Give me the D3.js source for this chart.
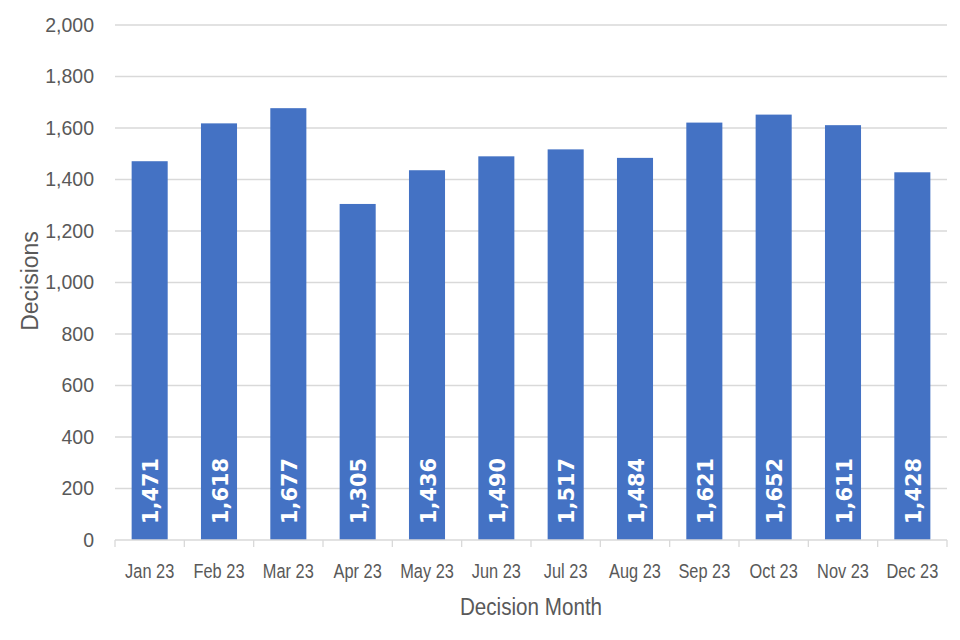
<!DOCTYPE html>
<html><head><meta charset="utf-8">
<script src="https://cdn.jsdelivr.net/npm/d3@7"></script>
<style>body{margin:0;background:#fff}</style>
</head><body>
<svg id="c" width="960" height="640"></svg>
<script>
const months = ["Jan 23","Feb 23","Mar 23","Apr 23","May 23","Jun 23","Jul 23","Aug 23","Sep 23","Oct 23","Nov 23","Dec 23"];
const decisions = [1471,1618,1677,1305,1436,1490,1517,1484,1621,1652,1611,1428];
const yTicks = [0,200,400,600,800,1000,1200,1400,1600,1800,2000];

const svg = d3.select("#c");
const m = {l:115, r:947, t:25, b:540};
const font = "'Liberation Sans',Arial,sans-serif";
const x = d3.scaleBand().domain(months).range([m.l, m.r]).paddingInner(0.48).paddingOuter(0.24);
const y = d3.scaleLinear().domain([0,2000]).range([m.b, m.t]);

// gridlines
svg.append("g").selectAll("line").data(yTicks.filter(d=>d>0)).join("line")
  .attr("x1", m.l).attr("x2", m.r).attr("y1", d=>y(d)).attr("y2", d=>y(d))
  .attr("stroke", "#d9d9d9").attr("stroke-width", 1.3);

// y axis labels
const yAxis = d3.axisLeft(y).tickValues(yTicks).tickSize(0).tickPadding(21).tickFormat(d3.format(","));
const gy = svg.append("g").attr("transform", `translate(${m.l},0)`).call(yAxis);
gy.select(".domain").remove();
gy.selectAll("text").attr("font-family", font).attr("font-size", 19.5).attr("fill", "#595959");

// bars
svg.append("g").selectAll("rect").data(decisions).join("rect")
  .attr("x", (d,i)=>x(months[i])).attr("width", x.bandwidth())
  .attr("y", d=>y(d)).attr("height", d=>y(0)-y(d)).attr("fill", "#4472c4");

// x axis
const step = x.step();
const xAxisG = svg.append("g").attr("transform", `translate(0,${m.b})`);
xAxisG.append("line").attr("x1", m.l).attr("x2", m.r).attr("stroke", "#d9d9d9").attr("stroke-width", 1.3);
xAxisG.selectAll("line.tk").data(d3.range(months.length+1)).join("line").attr("class","tk")
  .attr("x1", i=>m.l + i*step).attr("x2", i=>m.l + i*step).attr("y1", 0).attr("y2", 7)
  .attr("stroke", "#d9d9d9").attr("stroke-width", 1.3);
xAxisG.selectAll("text").data(months).join("text")
  .attr("transform", d=>`translate(${x(d)+x.bandwidth()/2},38) scale(0.84,1)`)
  .attr("text-anchor", "middle").attr("font-family", font).attr("font-size", 19.5).attr("fill", "#595959")
  .text(d=>d);

// data labels
svg.append("g").selectAll("text").data(decisions).join("text")
  .attr("transform", (d,i)=>`translate(${x(months[i])+x.bandwidth()/2+8.5},${y(0)-16}) rotate(-90) scale(0.95,1)`)
  .attr("font-family", "'DejaVu Sans',sans-serif").attr("font-weight", "bold").attr("font-size", 22)
  .attr("fill", "#fff").text(d=>d3.format(",")(d));

// axis titles
svg.append("text").attr("transform", `translate(${(m.l+m.r)/2},615) scale(0.86,1)`).attr("text-anchor", "middle")
  .attr("font-family", font).attr("font-size", 24).attr("fill", "#595959").text("Decision Month");
svg.append("text").attr("transform", `translate(38,281) rotate(-90)`).attr("text-anchor", "middle")
  .attr("font-family", font).attr("font-size", 23).attr("fill", "#595959").text("Decisions");
</script>
</body></html>
